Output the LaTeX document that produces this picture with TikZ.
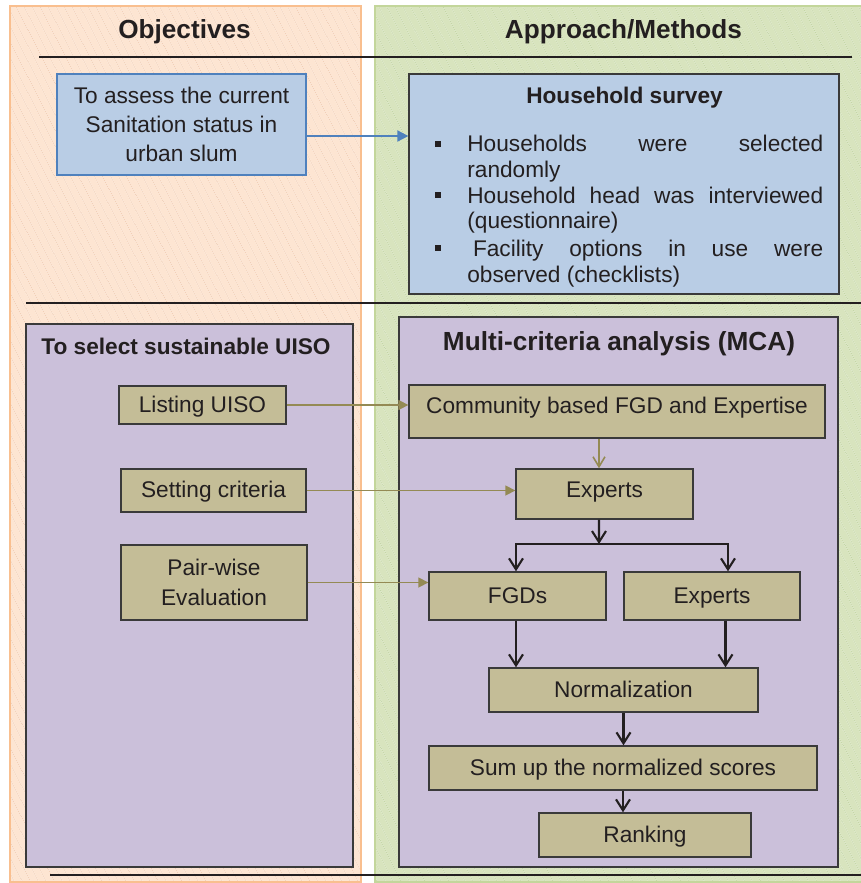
\documentclass[tikz,border=0pt]{standalone}
\usepackage{fontspec}
\setmainfont{Liberation Sans}
\usepackage{xcolor}
\usepackage{tikz}
\usetikzlibrary{arrows.meta,patterns.meta,positioning,calc}
\hyphenpenalty=10000
\tolerance=10000

\definecolor{objfill}{HTML}{FDE5D2}
\definecolor{objline}{HTML}{F9BF8F}
\definecolor{objhatch}{HTML}{F2CFB6}
\definecolor{appfill}{HTML}{D8E4BE}
\definecolor{appline}{HTML}{C3D69B}
\definecolor{apphatch}{HTML}{C4D6A6}
\definecolor{bluefill}{HTML}{B9CDE5}
\definecolor{blueline}{HTML}{4F81BD}
\definecolor{purfill}{HTML}{CBC0DA}
\definecolor{olivefill}{HTML}{C4BD97}
\definecolor{oliveline}{HTML}{948A54}
\definecolor{boxline}{HTML}{3A3A3A}
\definecolor{ink}{HTML}{231F20}

\tikzset{
  txt/.style={font=\fontsize{12.9}{16.7}\selectfont, text=ink},
  btxt/.style={font=\fontsize{12.9}{16.7}\selectfont\bfseries, text=ink},
  head/.style={font=\fontsize{14.9}{18}\selectfont\bfseries, text=ink},
  objpanel/.style={draw=objline, line width=1pt, preaction={fill=objfill},
    pattern={Lines[angle=-63,distance=4pt,line width=0.4pt]}, pattern color=objhatch},
  apppanel/.style={draw=appline, line width=1pt, preaction={fill=appfill},
    pattern={Lines[angle=-63,distance=4pt,line width=0.4pt]}, pattern color=apphatch},
  bluebox/.style={txt, draw=blueline, line width=0.8pt, fill=bluefill, inner sep=0pt, align=center},
  survbox/.style={draw=boxline, line width=0.8pt, fill=bluefill, inner sep=0pt},
  panel/.style={draw=boxline, line width=0.8pt, fill=purfill, inner sep=0pt},
  oshape/.style={txt, draw=boxline, line width=0.8pt, fill=olivefill, inner sep=0pt},
  obox/.style={oshape, text height=9.3pt, text depth=1.3pt},
  item/.style={font=\fontsize{12.9}{14.5}\selectfont, text=ink, text width=7.12cm,
    align=justify, inner sep=0pt, anchor=base west},
  bul/.style={fill=ink, inner sep=0pt, minimum size=0.12cm},
  rule/.style={draw=ink, line width=1.5pt},
  barrow/.style={draw=blueline, line width=1.1pt, -{Triangle[length=0.22cm,width=0.22cm]}},
  oarrow/.style={draw=oliveline, line width=0.9pt, -{Triangle[length=0.2cm,width=0.2cm]}},
  ovarrow/.style={draw=oliveline, line width=0.9pt, -{Straight Barb[length=0.2cm,width=0.24cm]}},
  karrow/.style={draw=ink, line width=1.2pt, -{Straight Barb[length=0.22cm,width=0.28cm]}},
  kline/.style={draw=ink, line width=1.2pt, line cap=rect},
}

\begin{document}
\begin{tikzpicture}[x=0.02cm, y=-0.02cm]
      \useasboundingbox (0,0) rectangle (861,883);
      \fill[white] (0,0) rectangle (861,883);
      % two columns
      \draw[objpanel] (10,6) rectangle (361,882);
      \draw[apppanel] (375,6) rectangle (868,882);
      \node[head, anchor=base] at (184.5,38.5) (objtitle) {Objectives};
      \node[head, anchor=base] at (623.5,38.5) (apptitle) {Approach/Methods};
      \draw[rule] (39,57) -- (852,57);
      \draw[rule] (26,303) -- (868,303);
      \draw[rule] (50,875) -- (868,875);
      % first objective
      \node[bluebox, minimum width=4.98cm, minimum height=2.02cm] at (181.5,124.5) (assess) {To assess the current\\Sanitation status in\\urban slum};
      \node[survbox, minimum width=8.6cm, minimum height=4.4cm] at (624,184) (survey) {};
      \node[btxt, anchor=base] at (624.5,103) (survtitle) {Household survey};
      \node[bul] at (438,143.5) (b1) {};
      \node[bul] at (438,195) (b2) {};
      \node[bul] at (438,248) (b3) {};
      \node[item] at (467,151.7) (hs1) {Households were selected randomly};
      \node[item] at (467,203.3) (hs2) {Household head was interviewed (questionnaire)};
      \node[item] at (467,256.7) (hs3) {\hspace*{0.25em}Facility options in use were observed (checklists)};
      \coordinate (a1) at ([yshift=-0.23cm]assess.east);
      \draw[barrow] (a1) -- (a1 -| survey.west);
      % second objective
      \node[panel, minimum width=6.54cm, minimum height=10.86cm] at (189.5,595.5) (uiso) {};
      \node[btxt, anchor=base] at (186,354) (uisotitle) {To select sustainable UISO};
      \node[obox, minimum width=3.34cm, minimum height=0.76cm] at (202.5,405) (listing) {Listing UISO};
      \node[obox, minimum width=3.7cm, minimum height=0.86cm] at (213.5,490.5) (setting) {Setting criteria};
      \node[oshape, align=center, minimum width=3.72cm, minimum height=1.5cm] at (214,582.5) (pairwise) {Pair-wise\\Evaluation};
      \node[panel, minimum width=8.78cm, minimum height=11cm] at (618.5,592) (mca) {};
      \node[head, anchor=base] at (619,350) (mcatitle) {Multi-criteria analysis (MCA)};
      \node[obox, minimum width=8.32cm, minimum height=1.06cm, text depth=6.5pt] at (617,411.5) (community) {Community based FGD and Expertise};
      \node[obox, minimum width=3.54cm, minimum height=1cm, text depth=5.1pt] at (604.5,494) (expertsA) {Experts};
      \node[obox, minimum width=3.54cm, minimum height=0.96cm] at (517.5,596) (fgds) {FGDs};
      \node[obox, minimum width=3.52cm, minimum height=0.96cm] at (712,596) (expertsB) {Experts};
      \node[obox, minimum width=5.38cm, minimum height=0.88cm] at (623.5,690) (norm) {Normalization};
      \node[obox, minimum width=7.76cm, minimum height=0.88cm] at (623,768) (sum) {Sum up the normalized scores};
      \node[obox, minimum width=4.24cm, minimum height=0.88cm] at (645,835) (ranking) {Ranking};
      \draw[oarrow] (listing.east) -- (listing.east -| community.west);
      \draw[oarrow] (setting.east) -- (setting.east -| expertsA.west);
      \draw[oarrow] (pairwise.east) -- (pairwise.east -| fgds.west);
      \coordinate (c1) at ([xshift=-0.11cm]expertsA.north);
      \draw[ovarrow] (c1 |- community.south) -- (c1);
      \coordinate (fm) at (599,544);
      \coordinate (fl) at (516,544);
      \coordinate (fr) at (728,544);
      \draw[karrow] (c1 |- expertsA.south) -- (fm);
      \draw[kline] (fl) -- (fr);
      \draw[karrow] (fl) -- (fl |- fgds.north);
      \draw[karrow] (fr) -- (fr |- expertsB.north);
      \draw[karrow] (fl |- fgds.south) -- (fl |- norm.north);
      \coordinate (e1) at ([xshift=0.27cm]expertsB.south);
      \draw[karrow] (e1) -- (e1 |- norm.north);
      \draw[karrow] (norm.south) -- (norm.south |- sum.north);
      \draw[karrow] (sum.south) -- (sum.south |- ranking.north);
    \end{tikzpicture}
\end{document}
